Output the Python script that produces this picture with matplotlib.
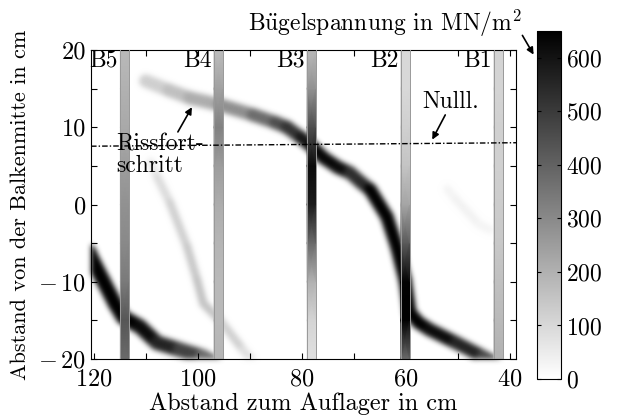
import numpy as np
import matplotlib
matplotlib.use("Agg")
import matplotlib.pyplot as plt
from matplotlib.collections import LineCollection
from matplotlib.colors import Normalize
from matplotlib.patches import FancyArrowPatch

plt.rcParams['font.family'] = ['cmr10', 'DejaVu Serif']
plt.rcParams['mathtext.fontset'] = 'cm'
plt.rcParams['axes.formatter.use_mathtext'] = True
plt.rcParams['font.size'] = 17

# stirrups (Bügel): position in cm and stress along the height
stirrup_names = ['B5', 'B4', 'B3', 'B2', 'B1']
stirrup_x = [114.0, 96.0, 78.1, 60.1, 42.2]
stirrup_y = [-20, -15, -10, -5, 0, 5, 10, 15, 20]
stirrup_stress = [
    [380, 430, 340, 300, 280, 250, 220, 200, 180],
    [190, 180, 180, 190, 210, 250, 320, 240, 170],
    [80, 110, 200, 380, 580, 620, 450, 280, 180],
    [380, 650, 640, 420, 230, 150, 120, 100, 100],
    [200, 180, 160, 140, 130, 120, 120, 110, 110],
]

# crack paths: x, y in cm and stress level along the path
main_x = [110, 105.5, 101.5, 95.7, 89.3, 85, 82.8, 80, 78, 75.9, 73, 70.7, 68.5,
          66.8, 63.6, 61.7, 60.1, 59.2, 57.5, 55.4, 50.3, 45.1, 42.5]
main_y = [16, 14.8, 13.8, 12.9, 11.6, 10.6, 10, 8.6, 7.5, 6.1, 4.8, 4.1, 2.8,
          1.9, -1.6, -5.5, -9.8, -14, -15.3, -16.2, -17.9, -19.7, -20.6]
main_s = [100, 140, 180, 240, 330, 420, 480, 560, 620, 640, 620, 620, 450,
          640, 650, 650, 650, 650, 650, 640, 600, 520, 420]

left_x = [121, 120.5, 118.2, 115.9, 114.3, 111.1, 107.8, 103.4, 99, 96.5]
left_y = [-6, -6.8, -9.8, -12.8, -14.6, -15.8, -17.9, -18.8, -19.7, -20.6]
left_s = [620, 650, 650, 650, 650, 640, 600, 520, 440, 320]

mid_x = [109, 107.8, 105.3, 102, 100.1, 98.9, 95.7, 91.3, 89]
mid_y = [5.5, 3.6, 0.2, -5.5, -9.8, -12.8, -15, -18.8, -20.6]
mid_s = [30, 70, 110, 130, 150, 160, 140, 100, 60]

right_x = [52, 50.3, 46, 43.8]
right_y = [2, 0.6, -2.5, -3.3]
right_s = [20, 35, 35, 20]

# neutral axis (Nulllinie)
null_x = [120.5, 38.8]
null_y = [7.55, 8.0]

x_ticks = [120, 100, 80, 60, 40]
y_ticks = [-20, -10, 0, 10, 20]
y_ticklabels = [r'$-\,$20', r'$-\,$10', '0', '10', '20']
cb_ticks = [0, 100, 200, 300, 400, 500, 600]

vmax = 650
cmap = plt.get_cmap('gray_r')
norm = Normalize(0, vmax)


def gauss_blur(sigma):
    # agg filter: soft edges like the smeared FE results
    r = int(3 * sigma)
    k = np.exp(-0.5 * (np.arange(-r, r + 1) / sigma) ** 2)
    k /= k.sum()

    def conv(a):
        a = np.apply_along_axis(lambda m: np.convolve(m, k, mode='same'), 0, a)
        a = np.apply_along_axis(lambda m: np.convolve(m, k, mode='same'), 1, a)
        return a

    def filt(im, dpi):
        im = np.pad(im, [(r, r), (r, r), (0, 0)])
        a = im[..., 3]
        out = np.zeros_like(im)
        ab = conv(a)
        for c in range(3):
            out[..., c] = conv(im[..., c] * a) / np.maximum(ab, 1e-6)
        out[..., 3] = ab
        return np.clip(out, 0, 1), -r, -r

    return filt


fig = plt.figure(figsize=(6.17, 4.18), dpi=100)
ax = fig.add_axes([0.1475, 0.1411, 0.6888, 0.7392])
cax = fig.add_axes([0.870, 0.0933, 0.0389, 0.8325])


def draw_crack(xs, ys, ss, lw):
    pts = np.column_stack([xs, ys])
    segs = np.stack([pts[:-1], pts[1:]], axis=1)
    vals = (np.array(ss[:-1]) + np.array(ss[1:])) / 2.0
    lc = LineCollection(segs, cmap=cmap, norm=norm, linewidths=lw,
                        capstyle='round', joinstyle='round', zorder=1)
    lc.set_array(vals)
    lc.set_agg_filter(gauss_blur(2.6))
    ax.add_collection(lc)


draw_crack(main_x, main_y, main_s, 9.5)
draw_crack(left_x, left_y, left_s, 10.5)
draw_crack(mid_x, mid_y, mid_s, 6)
draw_crack(right_x, right_y, right_s, 6)

half_w = 0.85
for name, xs, ss in zip(stirrup_names, stirrup_x, stirrup_stress):
    X, Y = np.meshgrid([xs - half_w, xs + half_w], stirrup_y)
    C = np.column_stack([ss, ss])
    ax.pcolormesh(X, Y, C, cmap=cmap, norm=norm, shading='gouraud', zorder=2)
    ax.plot([xs - half_w] * 2, [-20, 20], color='#999999', lw=0.7, zorder=3)
    ax.plot([xs + half_w] * 2, [-20, 20], color='#999999', lw=0.7, zorder=3)
    ax.text(xs + 1.3, 18.6, name, ha='right', va='center', fontsize=17, zorder=4)

ax.plot(null_x, null_y, color='black', lw=1.0,
        linestyle=(0, (4, 1.5, 1, 1.5)), zorder=4)

ax.text(115.6, 6.4, 'Rissfort-\nschritt', ha='left', va='center',
        fontsize=17, linespacing=0.95, zorder=5)
ax.annotate('', xy=(101.1, 12.6), xytext=(103.8, 9.4),
            arrowprops=dict(arrowstyle='-|>', color='black', lw=1.2,
                            mutation_scale=10, shrinkA=0, shrinkB=0), zorder=5)
ax.text(51.3, 13.3, 'Nulll.', ha='center', va='center', fontsize=17, zorder=5)
ax.annotate('', xy=(54.9, 8.4), xytext=(52.4, 11.6),
            arrowprops=dict(arrowstyle='-|>', color='black', lw=1.2,
                            mutation_scale=10, shrinkA=0, shrinkB=0), zorder=5)

ax.set_xlim(120.5, 38.8)
ax.set_ylim(-20, 20)
ax.set_xticks(x_ticks)
ax.set_xticks([110, 90, 70, 50], minor=True)
ax.set_yticks(y_ticks)
ax.set_yticklabels(y_ticklabels)
ax.set_yticks([-15, -5, 5, 15], minor=True)
ax.tick_params(which='both', direction='in', top=True, right=True,
               length=4, width=0.8, labelsize=17.5)
ax.tick_params(axis='x', which='major', pad=7)
ax.set_xlabel('Abstand zum Auflager in cm', fontsize=17.5, labelpad=1)
ax.set_ylabel('Abstand von der Balkenmitte in cm', fontsize=16, labelpad=6)

# colour bar
cb = fig.colorbar(plt.cm.ScalarMappable(norm=norm, cmap=cmap), cax=cax)
cb.set_ticks(cb_ticks)
cb.ax.tick_params(direction='in', left=True, right=True, length=3,
                  labelsize=17)
cb.outline.set_linewidth(0.8)

fig.text(0.846, 0.945, r'B$\ddot{\rm u}$gelspannung in MN/m$^2$',
         ha='right', va='center', fontsize=17)
fig.add_artist(FancyArrowPatch(
    (521 / 617, 1 - 33 / 418), (535 / 617, 1 - 57 / 418),
    transform=fig.transFigure, arrowstyle='-|>', mutation_scale=10,
    color='black', lw=1.2))

fig.savefig('out.png', dpi=100)
